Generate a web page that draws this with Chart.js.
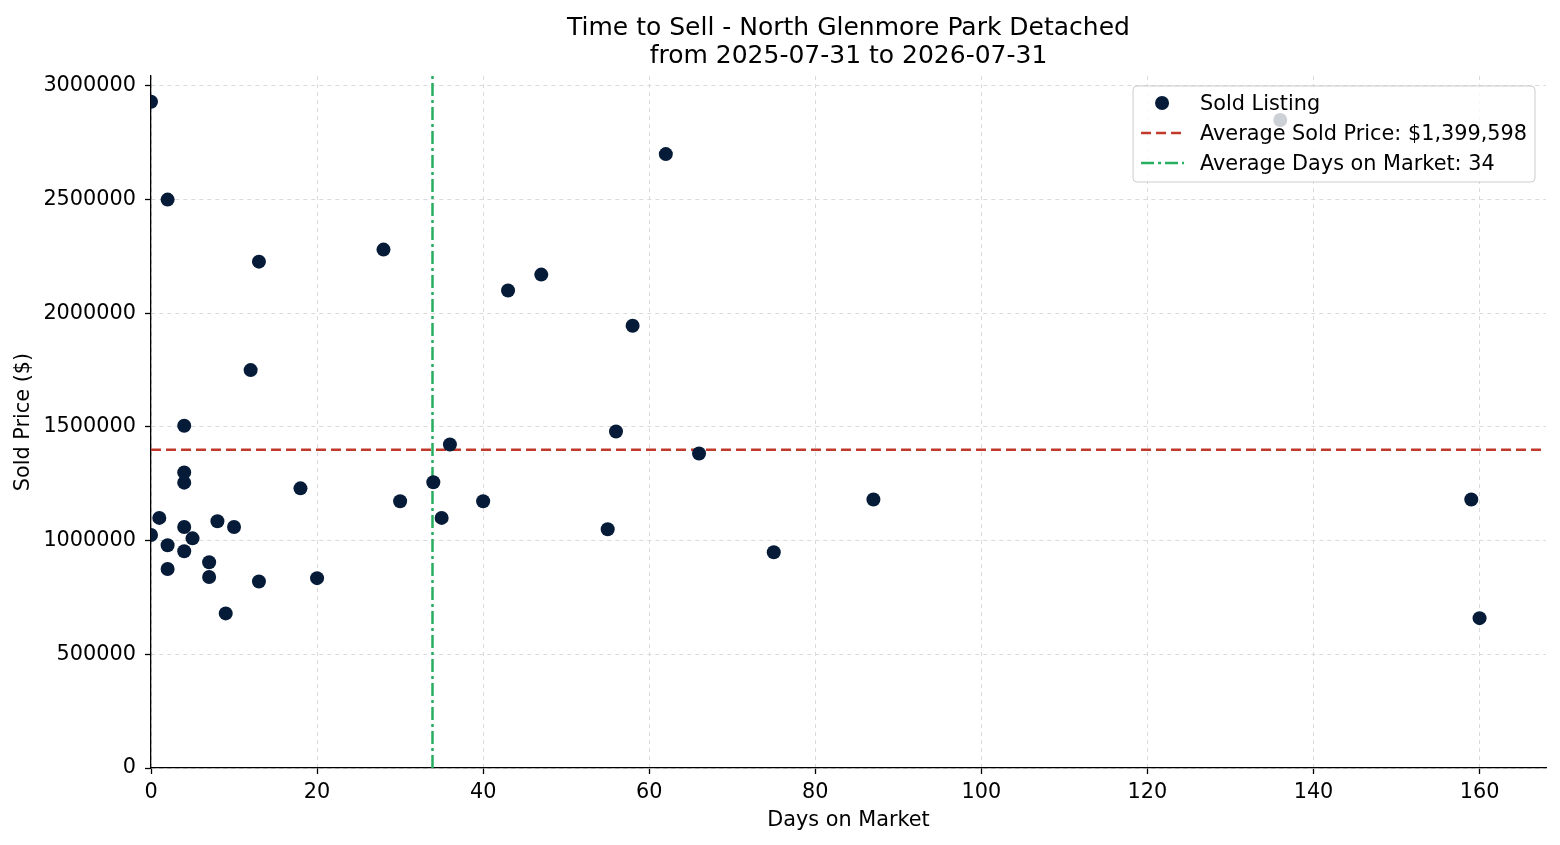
<!DOCTYPE html>
<html lang="en">

<head>
    <meta charset="UTF-8">
    <script src="https://cdn.jsdelivr.net/npm/chart.js@4.4.1/dist/chart.umd.min.js"></script>
    <title>Time to Sell</title>
    <style>
        body {
            margin: 0;
            background: #ffffff;
        }

        #wrap {
            width: 1560px;
            height: 845px;
        }
    </style>
</head>

<body>
    <div id="wrap"><canvas id="myChart"></canvas></div>
    <script>
        // sold listings
        const daysOnMarket = [0, 2, 13, 28, 12, 4, 4, 4, 1, 0,
            2, 4, 5, 4, 2, 7, 7, 8, 10, 9,
            13, 18, 20, 30, 34, 35, 36, 40, 43, 47,
            58, 56, 55, 62, 66, 75, 87, 136, 159, 160];
        const soldPrices = [2930000, 2500000, 2227000, 2280000, 1750000, 1505000, 1300000, 1255000, 1100000, 1025000,
            980000, 1060000, 1010000, 953000, 875000, 905000, 840000, 1085000, 1060000, 680000,
            820000, 1230000, 835000, 1173000, 1257000, 1100000, 1423000, 1173000, 2100000, 2170000,
            1945000, 1480000, 1050000, 2700000, 1383000, 949000, 1181000, 2850000, 1181000, 659000];

        const avgSoldPrice = 1399598;
        const avgDays = 33.9;

        const xTicks = [0, 20, 40, 60, 80, 100, 120, 140, 160];
        const yTicks = [0, 500000, 1000000, 1500000, 2000000, 2500000, 3000000];
        const xMax = 168;
        const yMax = 3043500;

        const titleLines = ['Time to Sell - North Glenmore Park Detached', 'from 2025-07-31 to 2026-07-31'];
        const legendLabels = ['Sold Listing', 'Average Sold Price: $1,399,598', 'Average Days on Market: 34'];

        const navy = '#051b38';
        const red = '#c0392b';
        const green = '#27ae60';
        const font = 'DejaVu Sans';
        const fs = 20.8;

        const points = daysOnMarket.map((d, i) => ({ x: d, y: soldPrices[i] }));

        // matplotlib style legend, drawn inside the plot area
        const insideLegend = {
            id: 'insideLegend',
            afterDraw(chart) {
                const ctx = chart.ctx;
                const area = chart.chartArea;
                ctx.save();
                ctx.font = fs + 'px "' + font + '"';
                let textW = 0;
                legendLabels.forEach(t => { textW = Math.max(textW, ctx.measureText(t).width); });
                const w = 8 + 43 + 16 + textW + 8;
                const h = 96;
                const x0 = area.right - 11 - w;
                const y0 = area.top + 10;
                ctx.beginPath();
                ctx.roundRect(x0, y0, w, h, 4);
                ctx.fillStyle = 'rgba(255,255,255,0.8)';
                ctx.fill();
                ctx.strokeStyle = '#cccccc';
                ctx.lineWidth = 1;
                ctx.stroke();

                const rows = [y0 + 17, y0 + 47, y0 + 77];
                const hx = x0 + 8;
                // marker
                ctx.beginPath();
                ctx.arc(hx + 21, rows[0], 7, 0, Math.PI * 2);
                ctx.fillStyle = navy;
                ctx.fill();
                // dashed line
                ctx.lineWidth = 2.5;
                ctx.strokeStyle = red;
                ctx.setLineDash([10, 5]);
                ctx.beginPath();
                ctx.moveTo(hx, rows[1]);
                ctx.lineTo(hx + 43, rows[1]);
                ctx.stroke();
                // dash-dot line
                ctx.strokeStyle = green;
                ctx.setLineDash([13, 4, 3, 4]);
                ctx.beginPath();
                ctx.moveTo(hx, rows[2]);
                ctx.lineTo(hx + 43, rows[2]);
                ctx.stroke();
                ctx.setLineDash([]);

                ctx.fillStyle = '#000000';
                ctx.textBaseline = 'middle';
                ctx.textAlign = 'left';
                legendLabels.forEach((t, i) => ctx.fillText(t, hx + 59, rows[i] + 2));
                ctx.restore();
            }
        };

        const ctx = document.getElementById('myChart').getContext('2d');
        const myChart = new Chart(ctx, {
            data: {
                datasets: [{
                    type: 'scatter',
                    label: legendLabels[0],
                    data: points,
                    backgroundColor: navy,
                    borderColor: navy,
                    pointRadius: 7,
                    pointBorderWidth: 0,
                    order: 0
                }, {
                    type: 'line',
                    label: legendLabels[1],
                    data: [{ x: 0, y: avgSoldPrice }, { x: xMax, y: avgSoldPrice }],
                    borderColor: red,
                    borderWidth: 2.5,
                    borderDash: [10, 5],
                    pointRadius: 0,
                    fill: false,
                    order: 1
                }, {
                    type: 'line',
                    label: legendLabels[2],
                    data: [{ x: avgDays, y: 0 }, { x: avgDays, y: yMax }],
                    borderColor: green,
                    borderWidth: 2.5,
                    borderDash: [13, 4, 3, 4],
                    pointRadius: 0,
                    fill: false,
                    order: 1
                }]
            },
            options: {
                responsive: true,
                maintainAspectRatio: false,
                animation: false,
                layout: { padding: { left: 0, right: 14, top: 0, bottom: 0 } },
                plugins: {
                    legend: { display: false },
                    tooltip: { enabled: false },
                    title: {
                        display: true,
                        text: titleLines,
                        fullSize: false,
                        color: '#000000',
                        font: { family: font, size: 25, weight: 'normal', lineHeight: 28 / 25 },
                        padding: { top: 14, bottom: 6 }
                    }
                },
                scales: {
                    x: {
                        type: 'linear',
                        min: 0,
                        max: xMax,
                        afterBuildTicks: s => { s.ticks = xTicks.map(v => ({ value: v })); },
                        afterFit: s => { s.height = 77; },
                        ticks: { color: '#000000', font: { family: font, size: fs }, padding: 6, maxRotation: 0 },
                        grid: { color: '#dadada', lineWidth: 1, tickColor: '#000000', tickLength: 6, tickWidth: 1.3 },
                        border: { color: '#000000', width: 1.3, dash: [4, 4] },
                        title: {
                            display: true, text: 'Days on Market', color: '#000000',
                            font: { family: font, size: fs }, padding: { top: 0, bottom: 12 }
                        }
                    },
                    y: {
                        type: 'linear',
                        min: 0,
                        max: yMax,
                        afterBuildTicks: s => { s.ticks = yTicks.map(v => ({ value: v })); },
                        afterFit: s => { s.width = 151; },
                        ticks: { color: '#000000', font: { family: font, size: fs }, padding: 9, callback: v => String(v) },
                        grid: { color: '#dadada', lineWidth: 1, tickColor: '#000000', tickLength: 6, tickWidth: 1.3 },
                        border: { color: '#000000', width: 1.3, dash: [4, 4] },
                        title: {
                            display: true, text: 'Sold Price ($)', color: '#000000',
                            font: { family: font, size: fs }, padding: { top: 11, bottom: 0 }
                        }
                    }
                }
            },
            plugins: [insideLegend]
        });
    </script>
</body>

</html>
